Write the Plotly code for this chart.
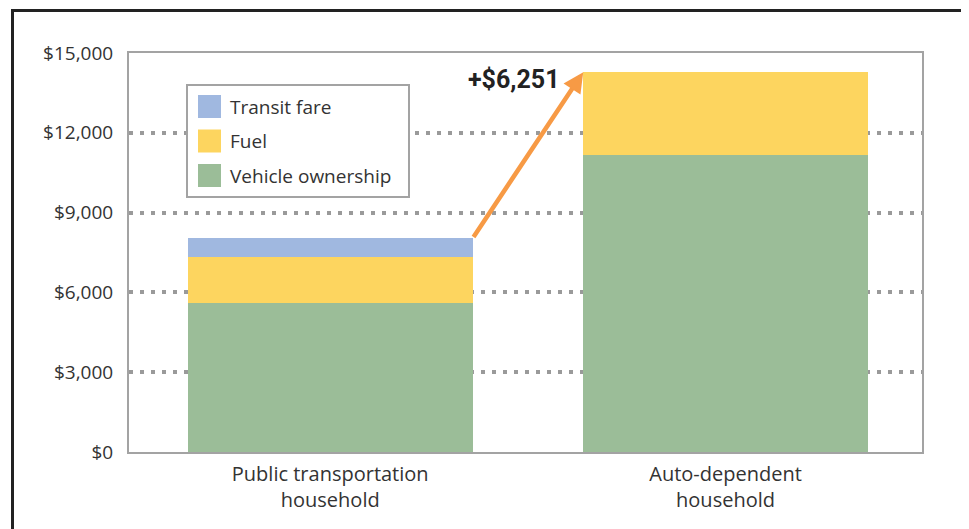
import plotly.graph_objects as go

categories = ["Public transportation<br>household", "Auto-dependent<br>household"]
vehicle_ownership = [5590, 11155]
fuel = [1725, 3126]
transit_fare = [715, 0]
series_names = ["Vehicle ownership", "Fuel", "Transit fare"]
series_colors = ["#9bbd98", "#fdd55f", "#a0b8e0"]
tick_vals = [0, 3000, 6000, 9000, 12000, 15000]
tick_text = ["$0", "$3,000", "$6,000", "$9,000", "$12,000", "$15,000"]
diff_label = "+$6,251"

# page body has an 8px default margin; work in screen pixels and offset
OFF = 8
W, H = 969 - OFF, 529 - OFF
PLOT_L, PLOT_R, PLOT_T, PLOT_B = 129, 922, 53, 452  # screen pixels
ML, MT = PLOT_L - OFF, PLOT_T - OFF
MR, MB = W - (PLOT_R - OFF), H - (PLOT_B - OFF)
PW, PH = PLOT_R - PLOT_L, PLOT_B - PLOT_T


def px(x):
    return (x - PLOT_L) / PW


def py(y):
    return (PLOT_B - y) / PH


FONT = "Open Sans"
BAR_W = 0.72

fig = go.Figure()
for name, vals, col in zip(series_names, [vehicle_ownership, fuel, transit_fare], series_colors):
    fig.add_trace(go.Bar(x=categories, y=vals, name=name, marker=dict(color=col, line=dict(width=0)),
                         width=BAR_W, showlegend=False, hoverinfo="skip"))

totals = [a + b + c for a, b, c in zip(vehicle_ownership, fuel, transit_fare)]

shapes = []
annotations = []
# outer frame (left and top edges visible)
shapes.append(dict(type="path", xref="paper", yref="paper",
                   path=f"M {px(12.5)},{py(560)} L {px(12.5)},{py(10.5)} L {px(990)},{py(10.5)}",
                   line=dict(color="#222222", width=3), layer="above"))
# manual legend box
shapes.append(dict(type="rect", xref="paper", yref="paper", x0=px(187), x1=px(409), y0=py(197), y1=py(85),
                   line=dict(color="#a3a3a3", width=2), fillcolor="white", layer="above"))
legend_items = list(zip(series_names, series_colors))[::-1]
row_centers = [106.5, 141, 175.5]
for (name, col), cy in zip(legend_items, row_centers):
    shapes.append(dict(type="rect", xref="paper", yref="paper", x0=px(198), x1=px(221), y0=py(cy + 11.5), y1=py(cy - 11.5),
                       line=dict(width=0), fillcolor=col, layer="above"))
    annotations.append(dict(text=name, xref="paper", yref="paper", x=px(228), y=py(cy), xanchor="left", yanchor="middle",
                            showarrow=False, font=dict(family=FONT, size=19, color="#333333")))

# arrow between bars
annotations.append(dict(x=1 - BAR_W / 2, y=totals[1], ax=0 + BAR_W / 2, ay=totals[0], xref="x", yref="y",
                        axref="x", ayref="y", showarrow=True, arrowhead=2, arrowsize=0.9, arrowwidth=4.5,
                        arrowcolor="#f79a45", text="", standoff=0, startstandoff=0))
annotations.append(dict(x=1 - BAR_W / 2, y=totals[1], xref="x", yref="y", text="<b>" + diff_label + "</b>",
                        showarrow=False, xanchor="right", yanchor="middle", xshift=-21, yshift=-7,
                        font=dict(family="Roboto", size=25, color="#222222")))

fig.update_layout(
    width=W, height=H, barmode="stack", bargap=0,
    margin=dict(l=ML, r=MR, t=MT, b=MB, pad=0),
    paper_bgcolor="white", plot_bgcolor="white",
    font=dict(family=FONT, size=19, color="#333333"),
    shapes=shapes, annotations=annotations, showlegend=False,
    xaxis=dict(type="category", range=[-0.509, 1.497], showgrid=False, showline=True, mirror=True,
               linecolor="#a3a3a3", linewidth=2, ticks="", ticklabelstandoff=3,
               tickfont=dict(family=FONT, size=20, color="#333333"), fixedrange=True),
    yaxis=dict(range=[0, 15000], tickvals=tick_vals, ticktext=tick_text, showgrid=True,
               gridcolor="#9a9a9a", gridwidth=4, griddash="4px,7px", zeroline=False,
               showline=True, mirror=True, linecolor="#a3a3a3", linewidth=2, ticks="",
               ticklabelstandoff=10, tickfont=dict(family=FONT, size=19, color="#333333"), fixedrange=True),
)

fig.write_html("out.html")
